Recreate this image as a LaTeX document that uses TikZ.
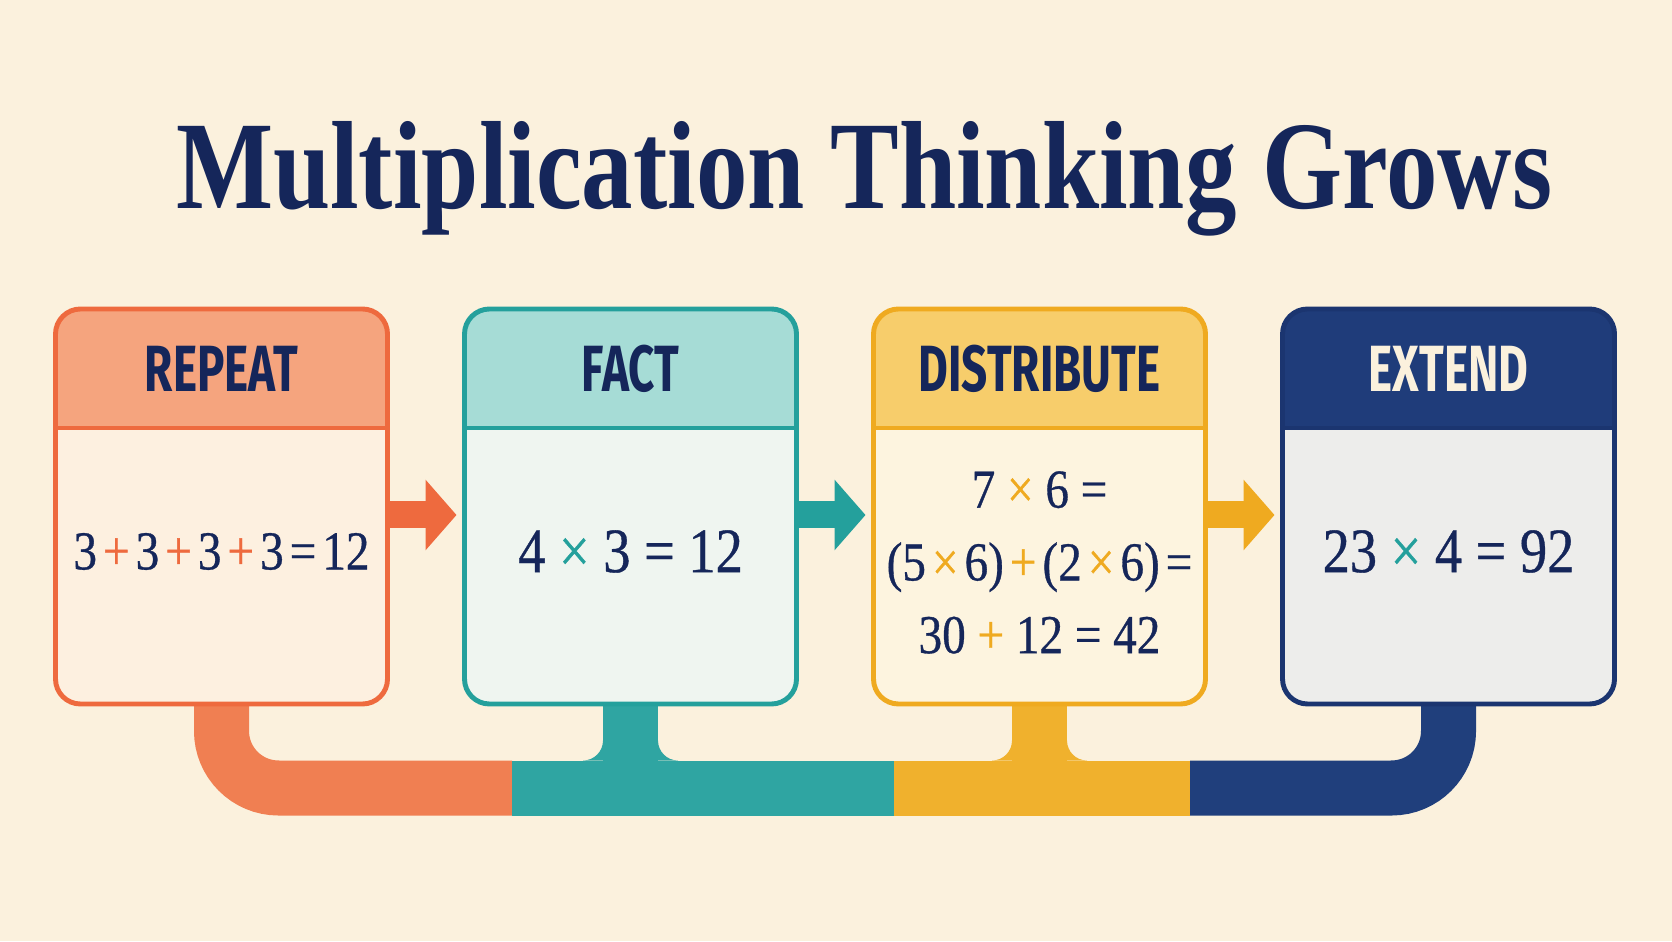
\documentclass[tikz,border=0pt]{standalone}
\usepackage{fontspec}
\usepackage{tikz}
\usetikzlibrary{arrows.meta,positioning}
\setmainfont{Liberation Serif}
\newfontfamily\titlefont[FakeStretch=0.82]{Liberation Serif}
\newfontfamily\headfont[FakeStretch=0.7]{Fira Sans}
\newfontfamily\eqfont[FakeStretch=0.86, FakeBold=0.6]{Liberation Serif}
\newcommand{\gap}{\hspace{0.11em}}

\definecolor{paper}{HTML}{FBF1DD}
\definecolor{ink}{HTML}{15265A}
\definecolor{orangeD}{HTML}{EE6A3E}
\definecolor{orangeM}{HTML}{F5A47E}
\definecolor{orangeL}{HTML}{FDF0E0}
\definecolor{orangeB}{HTML}{F07F52}
\definecolor{tealD}{HTML}{24A09C}
\definecolor{tealM}{HTML}{A6DCD6}
\definecolor{tealL}{HTML}{EFF5F0}
\definecolor{tealB}{HTML}{2FA5A2}
\definecolor{yellowD}{HTML}{EFAA20}
\definecolor{yellowM}{HTML}{F7CD6B}
\definecolor{yellowL}{HTML}{FDF4DF}
\definecolor{yellowB}{HTML}{F0B12D}
\definecolor{navyD}{HTML}{1B3570}
\definecolor{navyM}{HTML}{1F3C7A}
\definecolor{navyL}{HTML}{EDEDEB}
\definecolor{navyB}{HTML}{203F7C}

\pgfdeclarelayer{background}
\pgfsetlayers{background,main}

\tikzset{hdr/.style 2 args={path picture={
  \fill[#1, sharp corners] (path picture bounding box.north west) rectangle ([yshift=-1.19cm]path picture bounding box.north east);
  \draw[#2, sharp corners, line width=1.4pt] ([yshift=-1.19cm]path picture bounding box.north west) -- ([yshift=-1.19cm]path picture bounding box.north east);}}}
\tikzstyle{stageBox} = [rectangle, rounded corners=0.25cm, minimum width=3.32cm, minimum height=3.95cm, inner sep=0pt, outer sep=0pt, line width=1.4pt]
\tikzstyle{stageR} = [stageBox, draw=orangeD, fill=orangeL, hdr={orangeM}{orangeD}]
\tikzstyle{stageF} = [stageBox, draw=tealD, fill=tealL, hdr={tealM}{tealD}]
\tikzstyle{stageD} = [stageBox, draw=yellowD, fill=yellowL, hdr={yellowM}{yellowD}]
\tikzstyle{stageE} = [stageBox, draw=navyD, fill=navyL, hdr={navyM}{navyD}]
\tikzstyle{headText} = [text=ink, font=\headfont\bfseries\fontsize{18.6}{20}\selectfont]
\tikzstyle{eqText} = [text=ink, font=\eqfont\fontsize{15.6}{20.7}\selectfont, align=center]
\tikzstyle{eqBig} = [eqText, font=\eqfont\fontsize{18}{22}\selectfont]
\tikzstyle{stepArrow} = [line width=0.27cm, -{Triangle[width=0.69cm, length=0.31cm]}, shorten >=0.08cm]
\tikzstyle{busLine} = [line width=0.55cm, rounded corners=0.57cm]

\begin{document}
\begin{tikzpicture}
    \useasboundingbox (0,0) rectangle (16.72,9.41);

    \node (title) [anchor=base, text=ink, font=\titlefont\bfseries\fontsize{35.7}{40}\selectfont] at (8.64,7.32) {Multiplication Thinking Grows};

    \node (repeat) [stageR] at (2.215,4.345) {};
    \node (fact) [stageF, right=0.77cm of repeat] {};
    \node (distribute) [stageD, right=0.77cm of fact] {};
    \node (extend) [stageE, right=0.77cm of distribute] {};

    % bus under the boxes
    \coordinate (bus) at (0,1.53);
    \coordinate (busTop) at (0,1.805);
    \coordinate (cut1) at (5.12,1.53);
    \coordinate (cut2) at (8.94,1.53);
    \coordinate (cut3) at (11.9,1.53);
    \begin{pgfonlayer}{background}
    \fill[paper] (0,0) rectangle (16.72,9.41);
    \draw [busLine, orangeB] (repeat.south) -- (repeat.south |- bus) -- (cut1);
    \draw [busLine, tealB] (cut1) -- (cut2);
    \draw [busLine, yellowB] (cut2) -- (cut3);
    \draw [busLine, navyB] (cut3) -- (extend.south |- bus) -- (extend.south);
    \foreach \n/\c in {fact/tealB, distribute/yellowB} {
        \draw [busLine, \c] (\n.south) -- (\n.south |- bus);
        \fill [\c] ([xshift=-0.275cm]\n.south |- busTop) -- ++(0,0.2) arc[start angle=0, end angle=-90, radius=0.2cm] -- cycle;
        \fill [\c] ([xshift=0.275cm]\n.south |- busTop) -- ++(0,0.2) arc[start angle=180, end angle=270, radius=0.2cm] -- cycle;
    }
    \end{pgfonlayer}

    \draw [stepArrow, orangeD] ([yshift=-0.085cm]repeat.east) -- ([yshift=-0.085cm]fact.west);
    \draw [stepArrow, tealD] ([yshift=-0.085cm]fact.east) -- ([yshift=-0.085cm]distribute.west);
    \draw [stepArrow, yellowD] ([yshift=-0.085cm]distribute.east) -- ([yshift=-0.085cm]extend.west);

    \node (repeatHd) [headText] at ([yshift=-0.6cm]repeat.north) {REPEAT};
    \node (factHd) [headText] at ([yshift=-0.6cm]fact.north) {FACT};
    \node (distributeHd) [headText] at ([yshift=-0.6cm]distribute.north) {DISTRIBUTE};
    \node (extendHd) [headText, text=paper] at ([yshift=-0.6cm]extend.north) {EXTEND};

    \node (repeatEq) [eqText] at ([yshift=-0.45cm]repeat.center) {3\gap\textcolor{orangeD}{+}\gap3\gap\textcolor{orangeD}{+}\gap3\gap\textcolor{orangeD}{+}\gap3\gap=\gap12};
    \node (factEq) [eqBig] at ([yshift=-0.45cm]fact.center) {4 \textcolor{tealD}{×} 3 = 12};
    \node (distributeEq) [eqText] at ([yshift=-0.56cm]distribute.center) {7 \textcolor{yellowD}{×} 6 =\\(5\gap\textcolor{yellowD}{×}\gap6)\gap\textcolor{yellowD}{+}\gap(2\gap\textcolor{yellowD}{×}\gap6)\gap=\\30 \textcolor{yellowD}{+} 12 = 42};
    \node (extendEq) [eqBig] at ([yshift=-0.45cm]extend.center) {23 \textcolor{tealD}{×} 4 = 92};
\end{tikzpicture}
\end{document}
